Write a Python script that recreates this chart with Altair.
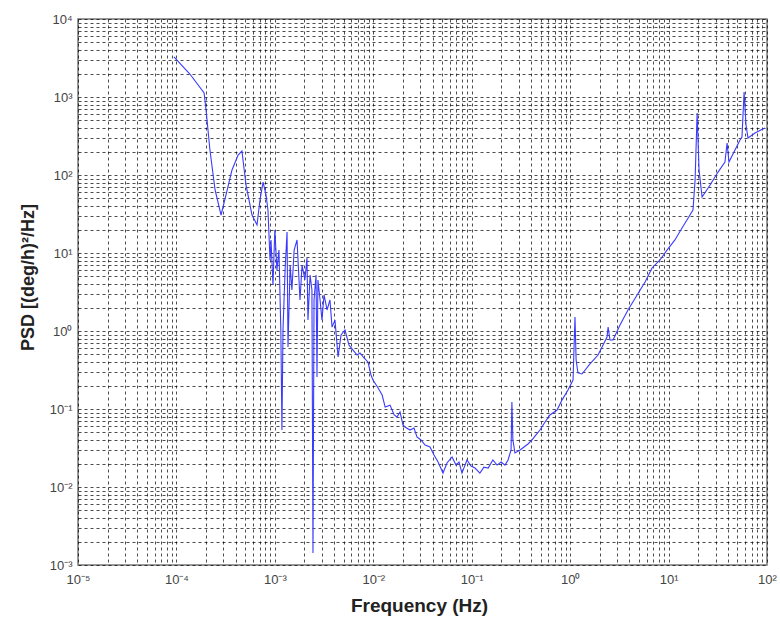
import altair as alt
import pandas as pd

freq = [9.44e-5, 1.37e-4, 1.91e-4, 2.0e-4, 2.19e-4, 2.47e-4, 2.84e-4, 3.19e-4, 3.67e-4, 4.23e-4,
        4.63e-4, 5.09e-4, 5.86e-4, 6.59e-4, 7.06e-4, 7.59e-4, 8.13e-4, 8.51e-4, 8.93e-4, 9.14e-4,
        9.57e-4, 1.0e-3, 1.05e-3, 1.10e-3, 1.15e-3, 1.18e-3, 1.21e-3, 1.27e-3, 1.33e-3, 1.36e-3,
        1.43e-3, 1.49e-3, 1.57e-3, 1.68e-3, 1.80e-3, 1.89e-3, 2.02e-3, 2.12e-3, 2.17e-3, 2.28e-3,
        2.38e-3, 2.44e-3, 2.50e-3, 2.62e-3, 2.68e-3, 2.74e-3, 2.88e-3, 3.01e-3, 3.16e-3, 3.39e-3,
        3.63e-3, 3.81e-3, 4.08e-3, 4.39e-3, 4.70e-3, 5.16e-3, 5.66e-3, 6.22e-3, 6.84e-3, 7.33e-3,
        8.05e-3, 8.83e-3, 9.48e-3, 9.93e-3, 1.12e-2, 1.23e-2, 1.32e-2, 1.48e-2, 1.63e-2, 1.74e-2,
        1.87e-2, 2.00e-2, 2.10e-2, 2.36e-2, 2.59e-2, 2.78e-2, 3.05e-2, 3.36e-2, 3.77e-2, 4.14e-2,
        4.55e-2, 5.11e-2, 5.61e-2, 6.31e-2, 6.92e-2, 7.43e-2, 7.96e-2, 8.55e-2, 8.95e-2, 9.84e-2,
        0.108, 0.121, 0.133, 0.147, 0.164, 0.181, 0.199, 0.218, 0.234, 0.251,
        0.256, 0.262, 0.275, 0.310, 0.340, 0.373, 0.410, 0.450, 0.494, 0.556,
        0.624, 0.736, 0.826, 0.951, 1.07, 1.12, 1.15, 1.20, 1.32, 1.59,
        1.92, 2.16, 2.37, 2.43, 2.54, 2.73, 3.21, 3.87, 4.79, 5.77,
        6.79, 8.18, 9.64, 11.6, 13.7, 16.5, 17.7, 18.6, 19.5, 20.4,
        21.9, 26.4, 31.8, 37.4, 39.3, 41.1, 47.3, 53.2, 55.7, 58.5,
        61.2, 64.1, 75.5, 95.5]

psd = [3260, 1970, 1125, 681, 209, 64.3, 30.7, 55.5, 116, 180,
       203, 74.5, 30.7, 22.9, 47.8, 81.3, 55.5, 35.6, 8.13, 14.7,
       3.89, 19.7, 6.05, 10.9, 1.03, 0.0538, 1.03, 6.05, 18.6, 0.624,
       7.02, 3.36, 10.9, 14.7, 2.50, 7.02, 4.51, 8.63, 1.38, 5.22,
       3.36, 1.43e-3, 2.50, 5.22, 0.257, 4.51, 2.50, 1.38, 2.90, 1.86,
       2.50, 1.12, 1.38, 0.464, 0.889, 1.03, 0.662, 0.570, 0.492, 0.522,
       0.451, 0.401, 0.273, 0.235, 0.186, 0.151, 0.106, 0.112, 0.0838, 0.0789,
       0.0916, 0.0624, 0.0588, 0.0538, 0.0570, 0.0438, 0.0401, 0.0345, 0.0326, 0.0257,
       0.0209, 0.0151, 0.0203, 0.0243, 0.0191, 0.0209, 0.0151, 0.0191, 0.0222, 0.0186,
       0.0175, 0.0151, 0.0180, 0.0175, 0.0222, 0.0191, 0.0209, 0.0191, 0.0222, 0.0298,
       0.123, 0.0401, 0.0273, 0.0298, 0.0326, 0.0356, 0.0401, 0.0465, 0.0538, 0.0681,
       0.0838, 0.0970, 0.130, 0.175, 0.235, 1.51, 0.425, 0.290, 0.281, 0.378,
       0.492, 0.662, 0.838, 1.12, 0.767, 0.767, 1.19, 1.86, 2.90, 4.25,
       6.43, 8.13, 10.9, 14.7, 20.9, 30.7, 35.6, 86.3, 624, 116,
       52.2, 74.5, 109, 147, 257, 147, 209, 281, 307, 1160,
       437, 298, 345, 401]

x_decades = [-5, -4, -3, -2, -1, 0, 1, 2]
y_decades = [-3, -2, -1, 0, 1, 2, 3, 4]

def log_ticks(decades):
    vals = []
    for d in decades[:-1]:
        for m in range(1, 10):
            vals.append(float(f"{m}e{d}"))
    vals.append(float(f"1e{decades[-1]}"))
    return vals

x_ticks = log_ticks(x_decades)
y_ticks = log_ticks(y_decades)

sup = {"-5": "⁻⁵", "-4": "⁻⁴", "-3": "⁻³", "-2": "⁻²", "-1": "⁻¹",
       "0": "⁰", "1": "¹", "2": "²", "3": "³", "4": "⁴"}
expr_parts = "".join(
    f"round(log(datum.value)/LN10) == {k} ? '10{v}' : " for k, v in sup.items()
)
label_expr = (
    "abs(log(datum.value)/LN10 - round(log(datum.value)/LN10)) > 0.001 ? '' : "
    + expr_parts + "''"
)

df = pd.DataFrame({"freq": freq, "psd": psd, "order": list(range(len(freq)))})

axis_common = dict(
    grid=True,
    gridDash=[3, 3],
    gridColor="#000000",
    gridOpacity=0.7,
    gridWidth=1,
    labelExpr=label_expr,
    labelFont="Liberation Sans",
    labelFontSize=13,
    labelColor="#444444",
    labelFlush=False,
    ticks=False,
    domain=False,
    titleFont="Liberation Sans",
    titleFontWeight="bold",
    titleColor="#222222",
    labelOverlap=False,
)

chart = (
    alt.Chart(df)
    .mark_line(color="#3a3aff", strokeWidth=1.1, clip=True)
    .encode(
        x=alt.X(
            "freq:Q",
            scale=alt.Scale(type="log", domain=[1e-5, 1e2], nice=False),
            axis=alt.Axis(values=x_ticks, title="Frequency (Hz)", labelPadding=8,
                          titlePadding=10, titleFontSize=19, titleX=341, **axis_common),
        ),
        y=alt.Y(
            "psd:Q",
            scale=alt.Scale(type="log", domain=[1e-3, 1e4], nice=False),
            axis=alt.Axis(values=y_ticks, title="PSD [(deg/h)²/Hz]", labelPadding=6,
                          titlePadding=12, titleFontSize=18, titleY=258, **axis_common),
        ),
        order="order:Q",
    )
    .properties(
        width=689,
        height=546,
        autosize=alt.AutoSizeParams(type="none"),
        padding={"left": 78, "top": 19, "right": 13, "bottom": 58},
        background="white",
    )
    .configure_view(stroke="#777777", strokeWidth=1.5)
)

chart.save("out.html", embed_options={"renderer": "svg", "actions": False})
